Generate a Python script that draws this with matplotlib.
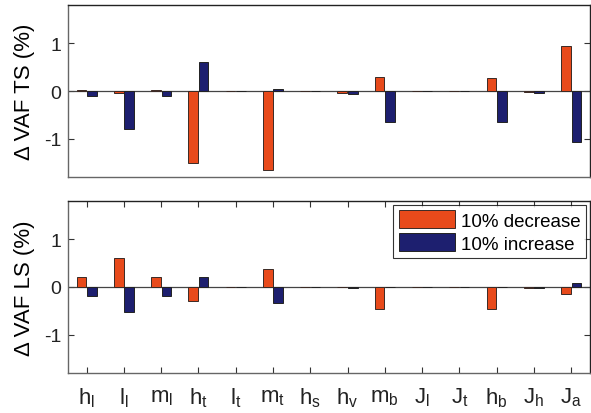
import numpy as np
import matplotlib.pyplot as plt

plt.rcParams['font.family'] = ['Liberation Sans', 'DejaVu Sans']
plt.rcParams['mathtext.fontset'] = 'custom'
plt.rcParams['mathtext.rm'] = 'Liberation Sans'
plt.rcParams['mathtext.it'] = 'Liberation Sans'

params = ['h_l', 'l_l', 'm_l', 'h_t', 'l_t', 'm_t', 'h_s', 'h_v',
          'm_b', 'J_l', 'J_t', 'h_b', 'J_h', 'J_a']
labels = [r'$\mathregular{%s}$' % p for p in params]

# VAF change, TS
ts_dec = [0.03, -0.05, 0.03, -1.51, 0.0, -1.66, 0.0, -0.05,
          0.285, 0.0, 0.0, 0.28, -0.03, 0.94]
ts_inc = [-0.10, -0.79, -0.10, 0.60, 0.0, 0.05, 0.0, -0.06,
          -0.65, 0.0, 0.0, -0.65, -0.04, -1.06]
# VAF change, LS
ls_dec = [0.20, 0.61, 0.20, -0.30, 0.0, 0.37, 0.0, 0.0,
          -0.47, 0.0, 0.0, -0.47, -0.02, -0.15]
ls_inc = [-0.19, -0.53, -0.19, 0.20, 0.0, -0.34, 0.0, -0.03,
          0.0, 0.0, 0.0, 0.0, -0.02, 0.08]

c_dec = '#E84A1B'
c_inc = '#1D1F6F'

x = np.arange(1, len(params) + 1)
w = 0.26
off = 0.14

fig = plt.figure(figsize=(5.91, 4.14), dpi=100)
ax1 = fig.add_axes([0.115, 0.570, 0.883, 0.4155])
ax2 = fig.add_axes([0.115, 0.0966, 0.883, 0.4155])

for ax, dec, inc, name in [(ax1, ts_dec, ts_inc, 'TS'), (ax2, ls_dec, ls_inc, 'LS')]:
    ax.bar(x - off, dec, w, color=c_dec, edgecolor='#3a2a25', linewidth=0.7,
           label='10% decrease', zorder=3)
    ax.bar(x + off, inc, w, color=c_inc, edgecolor='#222222', linewidth=0.7,
           label='10% increase', zorder=3)
    ax.axhline(0, color='#444444', linewidth=0.9, zorder=2)
    ax.set_xlim(0.5, 14.5)
    ax.set_ylim(-1.8, 1.8)
    ax.set_yticks([-1, 0, 1])
    ax.set_yticklabels(['-1', '0', '1'])
    ax.set_ylabel('\u0394 VAF %s (%%)' % name, fontsize=16, labelpad=6)
    ax.tick_params(axis='both', direction='in', length=4, width=0.8,
                   labelsize=14, colors='#333333', right=True, top=True)
    ax.tick_params(axis='y', labelcolor='#222222', pad=5)
    for s in ['left', 'bottom']:
        ax.spines[s].set_color('#666666')
    for s in ['top', 'right']:
        ax.spines[s].set_color('#222222')
    for s in ax.spines.values():
        s.set_linewidth(1.0)

ax1.set_xticks([])
ax2.set_xticks(x)
ax2.set_xticklabels(labels, fontsize=16, color='#222222')
ax2.tick_params(axis='x', pad=9)

leg = ax2.legend(loc='upper right', fontsize=13.5, frameon=True, fancybox=False,
                 edgecolor='black', handlelength=3.0, handleheight=1.1,
                 handletextpad=0.3, borderpad=0.3, labelspacing=0.2,
                 borderaxespad=0.2)
leg.get_frame().set_linewidth(0.8)

fig.savefig('out.png', dpi=100)
